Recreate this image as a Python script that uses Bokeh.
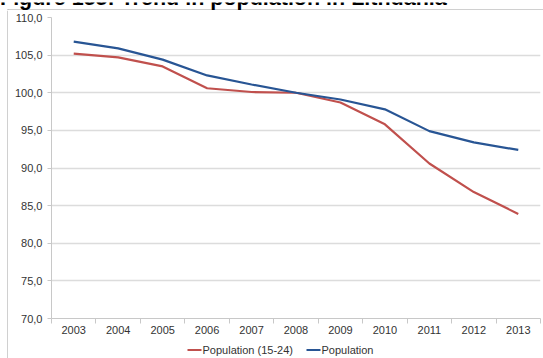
from bokeh.plotting import figure
from bokeh.layouts import column, row
from bokeh.models import Range1d, FixedTicker
from bokeh.core.properties import value
from bokeh.embed import file_html
from bokeh.resources import INLINE

years = ["2003", "2004", "2005", "2006", "2007", "2008", "2009", "2010", "2011", "2012", "2013"]
youth = [105.2, 104.7, 103.5, 100.6, 100.1, 100.0, 98.7, 95.8, 90.6, 86.8, 83.9]
population = [106.8, 105.9, 104.4, 102.3, 101.1, 100.0, 99.1, 97.8, 94.9, 93.4, 92.4]
y_ticks = [70, 75, 80, 85, 90, 95, 100, 105, 110]
series_names = ["Population (15-24)", "Population"]
title_text = "Figure 155: Trend in population in Lithuania"

RED = "#C0504D"
BLUE = "#285594"
FRAME = "#A0A0A0"
TXT = "#333333"
font = "Liberation Sans"

xs = list(range(len(years)))


def bare(w, h, xr, yr, left=0, right=0):
    f = figure(width=w, height=h, x_range=xr, y_range=yr, output_backend="svg", toolbar_location=None,
               x_axis_type=None, y_axis_type=None,
               min_border_left=left, min_border_right=right, min_border_top=0, min_border_bottom=0)
    f.grid.visible = False
    f.outline_line_color = None
    f.background_fill_color = "white"
    f.border_fill_color = "white"
    return f


# --- title strip (page y 0..10; the title is cut off at the top as in the reference) ---
pt = bare(543, 10, Range1d(0, 543), Range1d(10, 0))
pt.segment(x0=[7], y0=[7.5], x1=[543], y1=[7.5], line_color=FRAME, line_width=1)
pt.segment(x0=[7.5], y0=[7], x1=[7.5], y1=[10], line_color=FRAME, line_width=1)
pt.text(x=[-0.5], y=[-4.5], text=[title_text], text_font=value(font), text_font_size="21.5px",
        text_font_style="bold", text_color="black", text_baseline="alphabetic", text_align="left")

# --- left strip with the chart box's left edge (page y 10..358) ---
ps = bare(8, 348, Range1d(0, 8), Range1d(348, 0))
ps.segment(x0=[7.5], y0=[0], x1=[7.5], y1=[348], line_color=FRAME, line_width=1)

# --- main chart (page x 8..543, y 10..340; frame x 51..540, y 17..318) ---
p = figure(width=535, height=330, x_range=Range1d(-0.5, len(years) - 0.5), y_range=Range1d(70, 110),
           output_backend="svg", toolbar_location=None,
           min_border_left=43, min_border_right=3, min_border_top=7, min_border_bottom=22)
p.outline_line_color = None
p.background_fill_color = "white"
p.border_fill_color = "white"

p.yaxis.ticker = FixedTicker(ticks=y_ticks, minor_ticks=[])
p.yaxis.major_label_overrides = {v: f"{v},0" for v in y_ticks}
p.yaxis.axis_line_color = "#C8C8C8"
p.yaxis.major_tick_line_color = "#C8C8C8"
p.yaxis.major_tick_out = 4
p.yaxis.major_tick_in = 0
p.yaxis.minor_tick_line_color = None
p.yaxis.major_label_standoff = 5
p.yaxis.major_label_text_font = font
p.yaxis.major_label_text_font_size = "11px"
p.yaxis.major_label_text_color = TXT

p.xaxis.ticker = FixedTicker(ticks=xs, minor_ticks=[i - 0.5 for i in range(len(years) + 1)])
p.xaxis.major_label_overrides = {i: y for i, y in enumerate(years)}
p.xaxis.axis_line_color = "#C8C8C8"
p.xaxis.major_tick_line_color = None
p.xaxis.major_tick_out = 5
p.xaxis.major_tick_in = 0
p.xaxis.minor_tick_line_color = "#C8C8C8"
p.xaxis.minor_tick_out = 5
p.xaxis.minor_tick_in = 0
p.xaxis.major_label_standoff = 2
p.xaxis.major_label_text_font = font
p.xaxis.major_label_text_font_size = "11px"
p.xaxis.major_label_text_color = TXT

p.xgrid.grid_line_color = None
p.ygrid.grid_line_color = "#DCDCDC"
p.ygrid.grid_line_width = 1.5

p.line(xs, youth, line_color=RED, line_width=2.2)
p.line(xs, population, line_color=BLUE, line_width=2.2)

# --- legend strip (frame aligned with the main frame: page x 51..540, y 340..358) ---
pl = bare(535, 18, Range1d(51, 540), Range1d(358, 340), left=43, right=3)
key_x0 = [187, 306]
key_colors = [RED, BLUE]
pl.segment(x0=key_x0, y0=[349.5, 349.5], x1=[k + 14 for k in key_x0], y1=[349.5, 349.5],
           line_color=key_colors, line_width=2.2)
pl.text(x=[k + 15 for k in key_x0], y=[349.5, 349.5], text=series_names,
        text_font=value(font), text_font_size="11px", text_color=TXT,
        text_baseline="middle", text_align="left")

layout = column(pt, row(ps, column(p, pl, spacing=0), spacing=0), spacing=0)

open("out.html", "w").write(file_html(layout, INLINE))
